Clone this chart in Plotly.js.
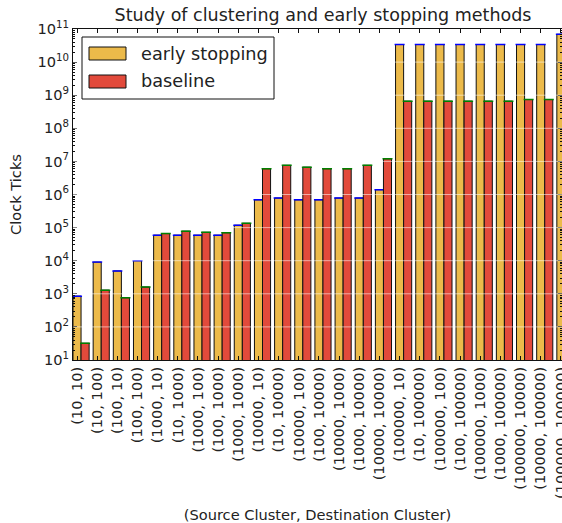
<!DOCTYPE html>
<html>
<head>
<meta charset="utf-8">
<script src="https://cdn.plot.ly/plotly-3.0.1.min.js"></script>
<style>html,body{margin:0;padding:0;background:#fff;}#chart{width:562px;height:523px;}</style>
</head>
<body>
<div id="chart"></div>
<script>
// ---- data ----
const categories = [
  "(10, 10)", "(10, 100)", "(100, 10)", "(100, 100)", "(1000, 10)", "(10, 1000)",
  "(1000, 100)", "(100, 1000)", "(1000, 1000)", "(10000, 10)", "(10, 10000)",
  "(10000, 100)", "(100, 10000)", "(10000, 1000)", "(1000, 10000)", "(10000, 10000)",
  "(100000, 10)", "(10, 100000)", "(100000, 100)", "(100, 100000)", "(100000, 1000)",
  "(1000, 100000)", "(100000, 10000)", "(10000, 100000)", "(100000, 100000)"
];
const earlyStopping = [
  850, 9100, 4900, 10000, 59000, 59000, 59000, 59000, 118000,
  690000, 780000, 690000, 690000, 780000, 780000, 1400000,
  3.4e10, 3.4e10, 3.4e10, 3.4e10, 3.4e10, 3.4e10, 3.4e10, 3.4e10, 6.9e10
];
const baseline = [
  32, 1290, 760, 1600, 66000, 78000, 72000, 70000, 135000,
  6.0e6, 7.6e6, 6.7e6, 6.0e6, 6.0e6, 7.6e6, 1.2e7,
  6.6e8, 6.6e8, 6.6e8, 6.6e8, 6.6e8, 6.6e8, 7.4e8, 7.4e8, 7.4e8
];
const seriesNames = ["early stopping", "baseline"];
const yDecades = [1, 2, 3, 4, 5, 6, 7, 8, 9, 10, 11];

// ---- styling ----
const W = 562, H = 523;
const M = {l: 73, r: 0, t: 29, b: 163};
const PW = W - M.l - M.r, PH = H - M.t - M.b;
const colors = ["#ecba4a", "#e24a3b"];
const capColors = ["#0000ff", "#008000"];
const FONT = "DejaVu Sans, sans-serif";
const TXT = "#222222";
const barW = 0.4;

const idx = categories.map((_, i) => i);
function mkBar(vals, k) {
  return {
    type: "bar",
    x: idx,
    y: vals,
    name: seriesNames[k],
    offset: k * barW,
    width: barW,
    marker: {color: colors[k], line: {color: "#111", width: 1}},
    error_y: {type: "data", array: vals.map(() => 0), visible: true,
              color: capColors[k], thickness: 1.5, width: 5},
    showlegend: false,
    hoverinfo: "x+y"
  };
}
const traces = [mkBar(earlyStopping, 0), mkBar(baseline, 1)];

const tickvals = yDecades.map(p => Math.pow(10, p));
const ticktext = yDecades.map(p => "10<sup>" + p + "</sup>");
const minorVals = [];
yDecades.slice(0, -1).forEach(p => { for (let m = 2; m <= 9; m++) minorVals.push(m * Math.pow(10, p)); });

// px -> paper helpers (for the hand-drawn legend box)
const px = v => (v - M.l) / PW;
const py = v => (M.t + PH - v) / PH;

const shapes = [];
// white grid lines drawn over the bars
yDecades.slice(1, -1).forEach(p => {
  shapes.push({type: "line", xref: "paper", yref: "y", x0: 0, x1: 1,
    y0: Math.pow(10, p), y1: Math.pow(10, p), layer: "above",
    line: {color: "rgba(255,255,255,0.55)", width: 1}});
});
// legend box
shapes.push({type: "rect", xref: "paper", yref: "paper", x0: px(82), x1: px(274), y0: py(37), y1: py(99),
  fillcolor: "#ffffff", line: {color: "#111", width: 1}, layer: "above"});
const annotations = [];
seriesNames.forEach((n, k) => {
  const yc = 53.5 + k * 28;
  shapes.push({type: "rect", xref: "paper", yref: "paper", x0: px(89), x1: px(126),
    y0: py(yc - 6.5), y1: py(yc + 6.5), fillcolor: colors[k], line: {color: "#111", width: 1}, layer: "above"});
  annotations.push({xref: "paper", yref: "paper", x: px(139), y: py(yc), text: n, showarrow: false,
    xanchor: "left", yanchor: "middle", font: {family: FONT, size: 17.7, color: TXT}});
});

const layout = {
  width: W, height: H,
  margin: M,
  paper_bgcolor: "#fff", plot_bgcolor: "#fff",
  barmode: "overlay",
  showlegend: false,
  title: {text: "Study of clustering and early stopping methods",
    xref: "container", x: 323 / W, xanchor: "center",
    yref: "container", y: 1 - 15 / H, yanchor: "middle",
    font: {family: FONT, size: 17.5, color: TXT}},
  xaxis: {
    type: "linear", range: [0, PW / 20.16],
    tickmode: "array", tickvals: idx.map(i => i + barW / 2), ticktext: categories,
    tickangle: -90, ticks: "inside", ticklen: 4, tickcolor: "#111",
    ticklabeloverflow: "allow",
    showline: true, linecolor: "#111", linewidth: 1, mirror: "ticks",
    showgrid: false, zeroline: false,
    tickfont: {family: FONT, size: 14.6, color: TXT},
    title: {text: "(Source Cluster, Destination Cluster)", standoff: 22,
      font: {family: FONT, size: 14.6, color: TXT}},
    automargin: false
  },
  yaxis: {
    type: "log", range: [1, 11],
    tickmode: "array", tickvals: tickvals, ticktext: ticktext,
    ticks: "inside", ticklen: 4, tickcolor: "#111",
    minor: {tickmode: "array", tickvals: minorVals, ticks: "inside", ticklen: 2, tickcolor: "#111", showgrid: false},
    showline: true, linecolor: "#111", linewidth: 1, mirror: "ticks",
    showgrid: false, zeroline: false,
    tickfont: {family: FONT, size: 14.6, color: TXT},
    title: {text: "Clock Ticks", standoff: 12, font: {family: FONT, size: 14.6, color: TXT}},
    automargin: false
  },
  shapes: shapes,
  annotations: annotations
};

Plotly.newPlot("chart", traces, layout, {displayModeBar: false, staticPlot: true});
</script>
</body>
</html>
